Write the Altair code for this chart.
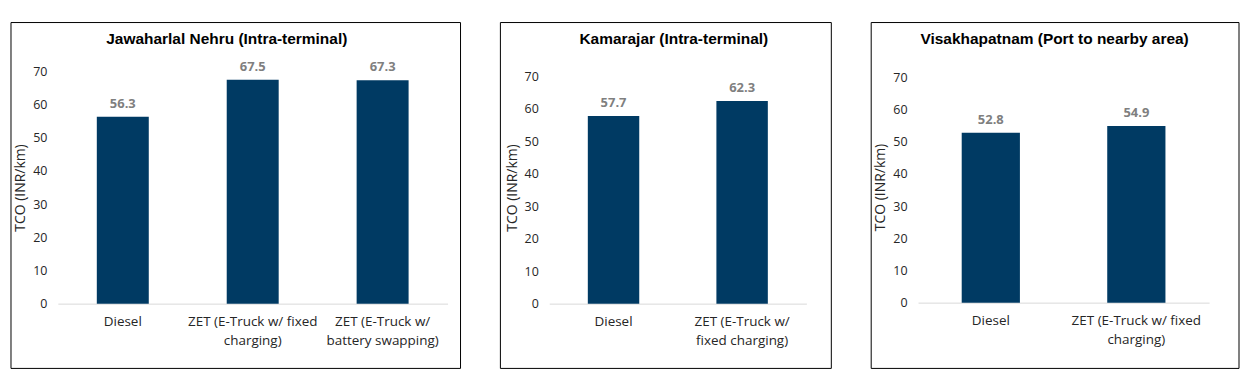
import altair as alt
import pandas as pd

# ---- data ----
titles = [
    "Jawaharlal Nehru (Intra-terminal)",
    "Kamarajar (Intra-terminal)",
    "Visakhapatnam (Port to nearby area)",
]
cats_jn = ["Diesel", "ZET (E-Truck w/ fixed\ncharging)", "ZET (E-Truck w/\nbattery swapping)"]
vals_jn = [56.3, 67.5, 67.3]
cats_km = ["Diesel", "ZET (E-Truck w/\nfixed charging)"]
vals_km = [57.7, 62.3]
cats_vz = ["Diesel", "ZET (E-Truck w/ fixed\ncharging)"]
vals_vz = [52.8, 54.9]
y_ticks = [0, 10, 20, 30, 40, 50, 60, 70]
y_title = "TCO (INR/km)"

BAR = "#003a63"
LABEL_GRAY = "#7f7f7f"
TXT = "#262626"
FONT = "Open Sans"
TFONT = "Liberation Sans"


def panel(title, cats, vals, width, height, ymax, left, right, top, bottom, dx):
    df = pd.DataFrame({"cat": cats, "val": vals})
    base = alt.Chart(df)
    x = alt.X(
        "cat:N",
        sort=cats,
        title=None,
        scale=alt.Scale(paddingInner=0.6, paddingOuter=0.3),
        axis=alt.Axis(
            labelAngle=0,
            labelExpr="split(datum.label, '\\n')",
            labelFont=FONT,
            labelFontSize=13.5,
            labelColor=TXT,
            labelLineHeight=19,
            labelPadding=11,
            ticks=False,
            domainColor="#d9d9d9",
            domainWidth=1,
            labelLimit=300,
        ),
    )
    y = alt.Y(
        "val:Q",
        title=y_title,
        scale=alt.Scale(domain=[0, ymax], nice=False),
        axis=alt.Axis(
            values=y_ticks,
            grid=False,
            domain=False,
            ticks=False,
            labelFont=FONT,
            labelFontSize=12.5,
            labelColor=TXT,
            labelPadding=11,
            titleFont=FONT,
            titleFontSize=14,
            titleFontWeight="normal",
            titleColor=TXT,
            titlePadding=5,
        ),
    )
    bars = base.mark_bar(color=BAR).encode(x=x, y=y)
    labels = base.mark_text(
        font=FONT, fontSize=13, fontWeight="bold", color=LABEL_GRAY,
        baseline="bottom", dy=-6,
    ).encode(x=x, y=y, text=alt.Text("val:Q", format=".1f"))
    one = alt.Data(values=[{"t": title}])
    frame = alt.Chart(one).mark_rect(
        filled=False, stroke="black", strokeWidth=1
    ).encode(
        x=alt.value(left), x2=alt.value(width + right),
        y=alt.value(top), y2=alt.value(height + bottom),
    )
    head = alt.Chart(one).mark_text(
        font=TFONT, fontSize=15.5, fontWeight="bold", color="black",
        align="center", baseline="middle",
    ).encode(
        x=alt.value(width / 2 + dx), y=alt.value(-32), text="t:N",
    )
    return alt.layer(frame, head, bars, labels).properties(width=width, height=height)


p1 = panel(titles[0], cats_jn, vals_jn, 391, 233, 70, -47, 13, -49, 65, -26)
p2 = panel(titles[1], cats_km, vals_km, 258, 233, 71.44, -49, 25, -49, 65, -4)
p3 = panel(titles[2], cats_vz, vals_vz, 292, 232, 71.86, -47, 30, -49, 66, -9)

chart = (
    alt.hconcat(p1, p2, p3, spacing=38)
    .properties(
        padding={"left": 2, "top": 13, "right": 0, "bottom": 0},
        background="white",
    )
    .configure_view(stroke=None)
)

chart.save("out.html", embed_options={"renderer": "svg", "actions": False})
